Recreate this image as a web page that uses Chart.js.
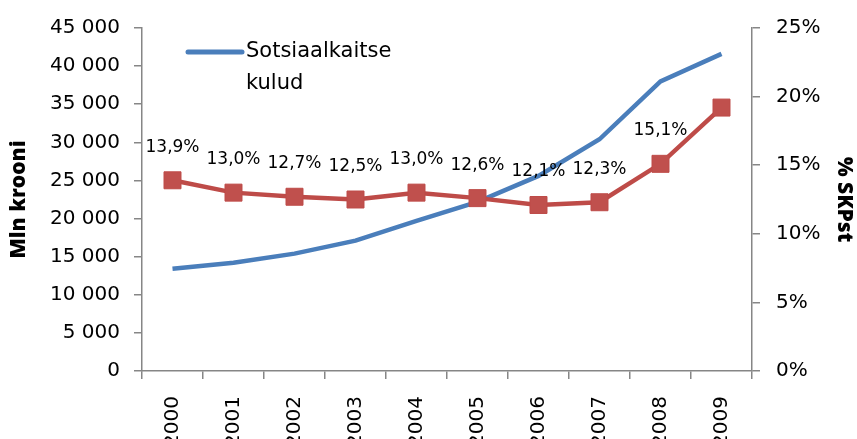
<!DOCTYPE html>
<html>
<head>
<meta charset="utf-8">
<script src="https://cdn.jsdelivr.net/npm/chart.js@4"></script>
<style>
  body { margin: 0; background: #fff; }
  #wrap { width: 857px; height: 439px; }
</style>
</head>
<body>
<div id="wrap"><canvas id="myChart"></canvas></div>
<script>
// data
const years = ["2000", "2001", "2002", "2003", "2004", "2005", "2006", "2007", "2008", "2009"];
const spending = [13400, 14200, 15400, 17100, 19700, 22200, 25600, 30400, 38000, 41600];
const gdpShare = [13.9, 13.0, 12.7, 12.5, 13.0, 12.6, 12.1, 12.3, 15.1, 19.2];
const labelShown = [true, true, true, true, true, true, true, true, true, false];
const leftTicks = { min: 0, max: 45000, step: 5000 };
const rightTicks = { min: 0, max: 25, step: 5 };

const blue = "#4A7EBB";
const red = "#BE4B48";
const axisGray = "#868686";
const fontFamily = "'DejaVu Sans', sans-serif";
const titleFamily = "'Open Sans', sans-serif";

function spaceThousands(v) {
  return String(v).replace(/\B(?=(\d{3})+(?!\d))/g, " ");
}
function commaPct(v) {
  return v.toFixed(1).replace(".", ",") + "%";
}

// value labels over the red squares
const pointLabels = {
  id: "pointLabels",
  afterDatasetsDraw(chart) {
    const meta = chart.getDatasetMeta(1);
    const ctx = chart.ctx;
    ctx.save();
    ctx.font = "17px " + fontFamily;
    ctx.fillStyle = "#000";
    ctx.textAlign = "center";
    ctx.textBaseline = "middle";
    meta.data.forEach((pt, i) => {
      if (!labelShown[i]) return;
      ctx.fillText(commaPct(gdpShare[i]), pt.x, pt.y - 33);
    });
    ctx.restore();
  },
};

// legend sits inside the plot, only the blue series
const insideLegend = {
  id: "insideLegend",
  afterDraw(chart) {
    const ctx = chart.ctx;
    const x0 = chart.chartArea.left + 46;
    const y0 = chart.chartArea.top + 24;
    ctx.save();
    ctx.strokeStyle = blue;
    ctx.lineWidth = 5;
    ctx.lineCap = "round";
    ctx.beginPath();
    ctx.moveTo(x0, y0);
    ctx.lineTo(x0 + 54, y0);
    ctx.stroke();
    ctx.font = "21px " + fontFamily;
    ctx.fillStyle = "#000";
    ctx.textBaseline = "middle";
    ctx.fillText("Sotsiaalkaitse", x0 + 58, y0);
    ctx.fillText("kulud", x0 + 58, y0 + 32);
    ctx.restore();
  },
};

const data = {
  labels: years,
  datasets: [
    {
      label: "Sotsiaalkaitse kulud",
      data: spending,
      yAxisID: "y",
      borderColor: blue,
      backgroundColor: blue,
      borderWidth: 4.5,
      pointRadius: 0,
      tension: 0,
      order: 2,
    },
    {
      label: "% SKPst",
      data: gdpShare,
      yAxisID: "y1",
      borderColor: red,
      backgroundColor: "#C0504D",
      borderWidth: 4.5,
      pointStyle: "rect",
      pointRadius: 12,
      pointBorderWidth: 1,
      pointBorderColor: red,
      tension: 0,
      order: 1,
    },
  ],
};

const config = {
  type: "line",
  data: data,
  options: {
    responsive: true,
    maintainAspectRatio: false,
    animation: false,
    layout: { padding: { top: 24, left: 0, right: 0, bottom: 0 } },
    plugins: {
      legend: { display: false },
      tooltip: { enabled: false },
    },
    scales: {
      x: {
        offset: true,
        grid: {
          offset: true,
          drawOnChartArea: false,
          tickLength: 8,
          color: axisGray,
          lineWidth: 1.5,
        },
        border: { color: axisGray, width: 1.5 },
        ticks: {
          minRotation: 90,
          maxRotation: 90,
          padding: 17,
          color: "#000",
          font: { family: fontFamily, size: 20 },
        },
        afterFit(scale) {
          scale.height = 68;
        },
      },
      y: {
        position: "left",
        min: leftTicks.min,
        max: leftTicks.max,
        grid: {
          drawOnChartArea: false,
          tickLength: 8,
          color: axisGray,
          lineWidth: 1.5,
        },
        border: { color: axisGray, width: 1.5 },
        ticks: {
          stepSize: leftTicks.step,
          padding: 14,
          color: "#000",
          font: { family: fontFamily, size: 20 },
          callback: (v) => spaceThousands(v),
        },
        title: {
          display: true,
          text: "Mln krooni",
          color: "#000",
          font: { family: titleFamily, size: 21, weight: 800 },
          padding: { top: 6, bottom: 0 },
        },
        afterFit(scale) {
          scale.width = 142;
        },
      },
      y1: {
        position: "right",
        min: rightTicks.min,
        max: rightTicks.max,
        grid: {
          drawOnChartArea: false,
          tickLength: 8,
          color: axisGray,
          lineWidth: 1.5,
        },
        border: { color: axisGray, width: 1.5 },
        ticks: {
          stepSize: rightTicks.step,
          padding: 16,
          color: "#000",
          font: { family: fontFamily, size: 20 },
          callback: (v) => v + "%",
        },
        title: {
          display: true,
          text: "% SKPst",
          color: "#000",
          font: { family: titleFamily, size: 21, weight: 800 },
          padding: { top: 0, bottom: 0 },
        },
        afterFit(scale) {
          scale.width = 105;
        },
      },
    },
  },
  plugins: [pointLabels, insideLegend],
};

const myChart = new Chart(document.getElementById("myChart"), config);
</script>
</body>
</html>
